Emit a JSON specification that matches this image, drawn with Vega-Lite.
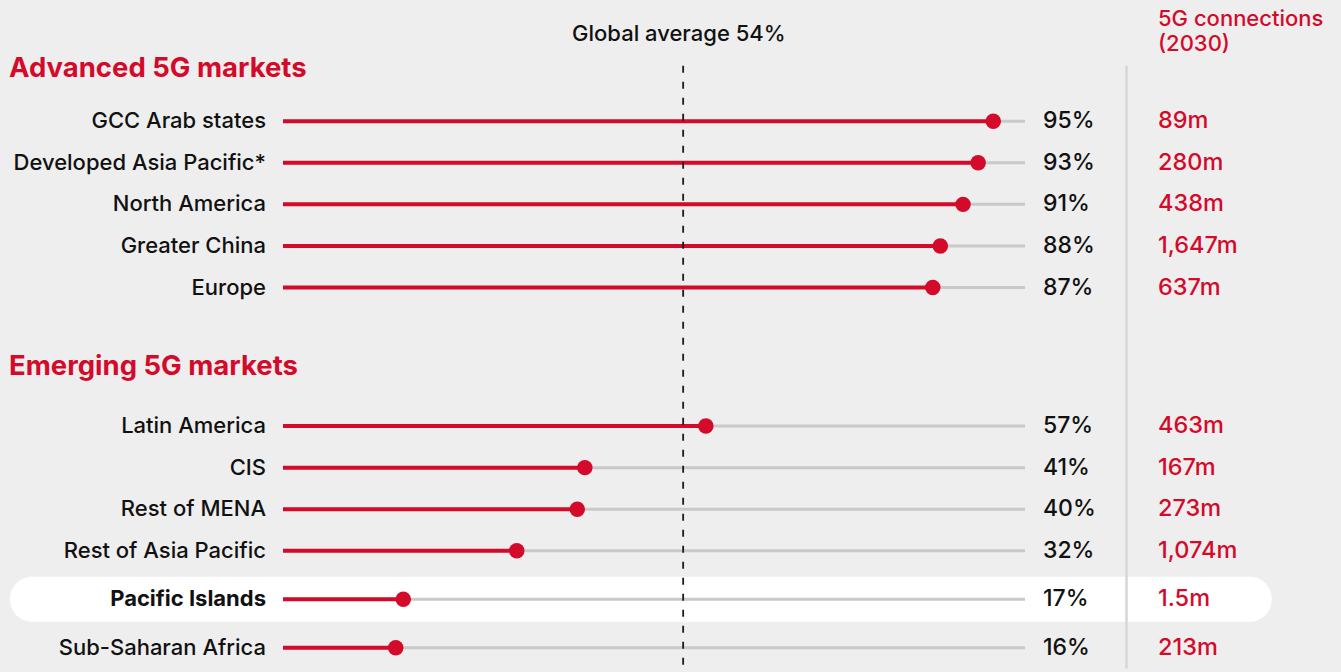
{
  "$schema": "https://vega.github.io/schema/vega-lite/v6.json",
  "width": 1341,
  "height": 672,
  "padding": 0,
  "autosize": {"type": "none"},
  "background": "#eeeeee",
  "config": {
    "view": {"stroke": null},
    "axis": {"disable": true},
    "text": {"font": "Inter"}
  },
  "data": {
    "values": [
      {"region": "GCC Arab states", "share": 0.95, "conn": "89m"},
      {"region": "Developed Asia Pacific*", "share": 0.93, "conn": "280m"},
      {"region": "North America", "share": 0.91, "conn": "438m"},
      {"region": "Greater China", "share": 0.88, "conn": "1,647m"},
      {"region": "Europe", "share": 0.87, "conn": "637m"},
      {"region": "Latin America", "share": 0.57, "conn": "463m"},
      {"region": "CIS", "share": 0.41, "conn": "167m"},
      {"region": "Rest of MENA", "share": 0.40, "conn": "273m"},
      {"region": "Rest of Asia Pacific", "share": 0.32, "conn": "1,074m"},
      {"region": "Pacific Islands", "share": 0.17, "conn": "1.5m"},
      {"region": "Sub-Saharan Africa", "share": 0.16, "conn": "213m"}
    ]
  },
  "encoding": {
    "y": {
      "field": "region",
      "type": "nominal",
      "axis": null,
      "scale": {
        "type": "band",
        "paddingInner": 0,
        "paddingOuter": 0,
        "domain": ["s0","s1","s2","s3","top","s5","s6","s7","s8","advanced","s10","s11","s12","s13","s14","s15","s16","GCC Arab states","s18","s19","s20","s21","s22","Developed Asia Pacific*","s24","s25","s26","s27","s28","North America","s30","s31","s32","s33","s34","Greater China","s36","s37","s38","s39","s40","Europe","s42","s43","s44","s45","s46","s47","s48","s49","s50","s51","emerging","s53","s54","s55","s56","s57","s58","s59","s60","Latin America","s62","s63","s64","s65","s66","CIS","s68","s69","s70","s71","s72","Rest of MENA","s74","s75","s76","s77","s78","Rest of Asia Pacific","s80","s81","s82","s83","s84","s85","Pacific Islands","s87","s88","s89","s90","s91","s92","Sub-Saharan Africa","s94","s95","bottom"]
      }
    }
  },
  "layer": [
    {
      "transform": [{"filter": "datum.region === 'Pacific Islands'"}],
      "mark": {"type": "rect", "color": "#ffffff", "height": 45, "cornerRadius": 22},
      "encoding": {
        "x": {"datum": -0.34995, "type": "quantitative", "axis": null, "scale": {"domain": [-0.36317, 1.4097], "nice": false, "zero": false}},
        "x2": {"datum": 1.31808}
      }
    },
    {
      "mark": {"type": "rule", "color": "#c9c9c9", "strokeWidth": 3},
      "encoding": {
        "x": {"datum": 0.01097, "type": "quantitative"},
        "x2": {"datum": 0.99193}
      }
    },
    {
      "mark": {"type": "rule", "color": "#d40a2b", "strokeWidth": 4},
      "encoding": {
        "x": {"field": "share", "type": "quantitative"},
        "x2": {"datum": 0.01097}
      }
    },
    {
      "data": {"values": [{"avg": 0.54, "from": "advanced", "to": "bottom"}]},
      "mark": {"type": "rule", "color": "#1a1a1a", "strokeWidth": 1.8, "strokeDash": [7, 9]},
      "encoding": {
        "x": {"field": "avg", "type": "quantitative"},
        "y": {"field": "from", "type": "nominal"},
        "y2": {"field": "to"}
      }
    },
    {
      "data": {"values": [{"sep": 1.12612, "from": "advanced", "to": "bottom"}]},
      "mark": {"type": "rule", "color": "#d6d6d6", "strokeWidth": 2.5},
      "encoding": {
        "x": {"field": "sep", "type": "quantitative"},
        "y": {"field": "from", "type": "nominal"},
        "y2": {"field": "to"}
      }
    },
    {
      "mark": {"type": "point", "filled": true, "color": "#d40a2b", "size": 240, "opacity": 1},
      "encoding": {
        "x": {"field": "share", "type": "quantitative"}
      }
    },
    {
      "transform": [{"filter": "datum.region !== 'Pacific Islands'"}],
      "mark": {"type": "text", "align": "right", "baseline": "middle", "fontSize": 22, "fontWeight": 500, "color": "#111111"},
      "encoding": {
        "x": {"datum": -0.0115, "type": "quantitative"},
        "text": {"field": "region"}
      }
    },
    {
      "transform": [{"filter": "datum.region === 'Pacific Islands'"}],
      "mark": {"type": "text", "align": "right", "baseline": "middle", "fontSize": 22, "fontWeight": "bold", "color": "#111111"},
      "encoding": {
        "x": {"datum": -0.0115, "type": "quantitative"},
        "text": {"field": "region"}
      }
    },
    {
      "mark": {"type": "text", "align": "left", "baseline": "middle", "fontSize": 23, "fontWeight": 500, "color": "#111111"},
      "encoding": {
        "x": {"datum": 1.01573, "type": "quantitative"},
        "text": {"field": "share", "type": "quantitative", "format": ".0%"}
      }
    },
    {
      "mark": {"type": "text", "align": "left", "baseline": "middle", "fontSize": 23.5, "fontWeight": 500, "color": "#d40a2b"},
      "encoding": {
        "x": {"datum": 1.16777, "type": "quantitative"},
        "text": {"field": "conn"}
      }
    },
    {
      "data": {"values": [
        {"label": "Advanced 5G markets", "slot": "advanced"},
        {"label": "Emerging 5G markets", "slot": "emerging"}
      ]},
      "mark": {"type": "text", "align": "left", "baseline": "middle", "fontSize": 27.5, "fontWeight": "bold", "dy": 3, "color": "#d40a2b"},
      "encoding": {
        "x": {"datum": -0.35127, "type": "quantitative"},
        "y": {"field": "slot", "type": "nominal"},
        "text": {"field": "label"}
      }
    },
    {
      "data": {"values": [{"label": "Global average 54%", "slot": "top"}]},
      "mark": {"type": "text", "align": "center", "baseline": "middle", "fontSize": 22, "fontWeight": 500, "dy": 3, "color": "#111111"},
      "encoding": {
        "x": {"datum": 0.53424, "type": "quantitative"},
        "y": {"field": "slot", "type": "nominal"},
        "text": {"field": "label"}
      }
    },
    {
      "data": {"values": [{"label": "5G connections\n(2030)", "slot": "s2"}]},
      "mark": {"type": "text", "align": "left", "baseline": "middle", "fontSize": 22, "fontWeight": 500, "lineBreak": "\n", "lineHeight": 25, "dy": 1.5, "color": "#d40a2b"},
      "encoding": {
        "x": {"datum": 1.16777, "type": "quantitative"},
        "y": {"field": "slot", "type": "nominal"},
        "text": {"field": "label"}
      }
    }
  ]
}
